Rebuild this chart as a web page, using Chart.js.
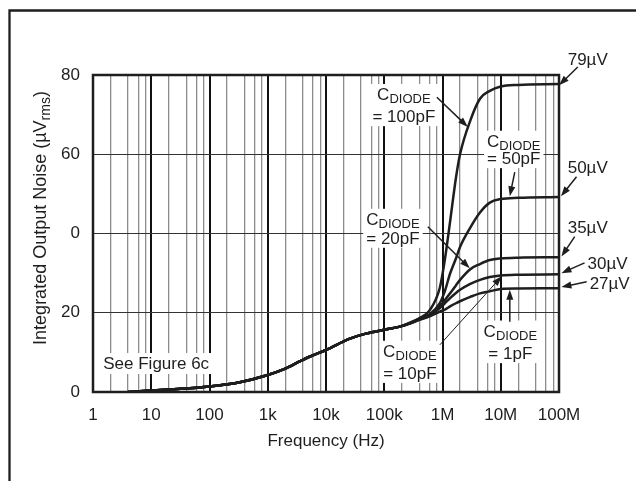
<!DOCTYPE html>
<html>
<head>
<meta charset="utf-8">
<script src="https://cdn.jsdelivr.net/npm/chart.js@4.4.0/dist/chart.umd.min.js"></script>
<style>
body{margin:0;background:#fff}
</style>
</head>
<body>
<canvas id="noiseChart" width="636" height="481"></canvas>
<script>
// shared low frequency part (all curves lie on top of each other)
const commonFreq = [4, 10, 32, 100, 316, 1000, 2000, 3500, 5200, 10000, 25000, 50000, 100000, 185000]
const commonNoise = [0, 0.4, 0.8, 1.4, 2.4, 4.3, 5.9, 7.7, 8.9, 10.6, 13.4, 14.8, 15.7, 16.5]

// where the curves split up
const tailFreq = [275000, 400000, 600000, 900000, 1100000, 1350000, 1700000, 2000000, 3000000, 4400000, 6500000, 10000000, 20000000, 100000000]
const noise1pF = [17.3, 18.2, 19.1, 20.3, 20.8, 21.6, 22.4, 22.9, 24.0, 24.9, 25.4, 26.0, 26.1, 26.2]
const noise10pF = [17.3, 18.3, 19.2, 21.2, 22.4, 23.7, 25.0, 25.8, 27.3, 28.3, 29.0, 29.4, 29.6, 29.7]
const noise20pF = [17.3, 18.4, 19.4, 21.6, 23.2, 24.9, 26.9, 28.3, 31.0, 32.3, 33.3, 33.7, 33.9, 34.0]
const noise50pF = [17.4, 18.5, 19.6, 22.4, 25.5, 29.9, 33.7, 36.6, 41.5, 45.3, 47.8, 48.7, 49.0, 49.2]
const noise100pF = [17.5, 18.6, 20.6, 26.3, 33.5, 43.0, 54.0, 60.0, 68.5, 74.0, 76.0, 77.1, 77.5, 77.7]
const seriesNames = ['1pF', '10pF', '20pF', '50pF', '100pF']

const decades = [1, 10, 100, 1e3, 1e4, 1e5, 1e6, 1e7, 1e8]
const minorSteps = [2, 4, 6, 8]
const xTickLabels = ['1', '10', '100', '1k', '10k', '100k', '1M', '10M', '100M']
const yTickLabels = ['0', '20', '0', '60', '80']
const endLabels = ['79µV', '50µV', '35µV', '30µV', '27µV']

const FONT = '"Liberation Sans", Arial, Helvetica, sans-serif'
const INK = '#1e1e1e'

// label + arrow placement, in data units (Hz, µV)
const diodeNotes = [
	{ text: '= 100pF', fx: 2.17e5, v1: 73.7, v2: 68.1, from: [8.0e5, 74.4], to: [2.72e6, 66.9], thin: false },
	{ text: '= 50pF', fx: 1.67e7, v1: 61.9, v2: 57.5, from: [1.74e7, 55.5], to: [1.43e7, 49.4], thin: false },
	{ text: '= 20pF', fx: 1.41e5, v1: 42.2, v2: 37.4, from: [5.6e5, 41.7], to: [2.94e6, 31.2], thin: false },
	{ text: '= 10pF', fx: 2.75e5, v1: 8.9, v2: 3.3, from: [9.0e5, 11.9], to: [1.04e7, 29.2], thin: true },
	{ text: '= 1pF', fx: 1.46e7, v1: 14.0, v2: 8.3, from: [1.43e7, 17.7], to: [1.43e7, 25.8], thin: false }
]
const endNotes = [
	{ fx: 1.41e8, v: 82.5, from: [2.1e8, 82.0], to: [1.0e8, 77.4] },
	{ fx: 1.41e8, v: 55.3, from: [2.0e8, 54.3], to: [1.08e8, 49.4] },
	{ fx: 1.41e8, v: 40.2, from: [1.86e8, 39.2], to: [1.1e8, 34.2] },
	{ fx: 3.1e8, v: 31.0, from: [2.75e8, 32.6], to: [1.1e8, 30.0] },
	{ fx: 3.36e8, v: 26.0, from: [2.98e8, 27.8], to: [1.1e8, 26.5] }
]

const isDecade = v => Math.abs(Math.log10(v) - Math.round(Math.log10(v))) < 1e-9

const gridTicks = []
decades.forEach(d => {
	gridTicks.push(d)
	if (d < 1e8) minorSteps.forEach(m => gridTicks.push(m * d))
})

const allFreq = commonFreq.concat(tailFreq)
const datasets = [noise1pF, noise10pF, noise20pF, noise50pF, noise100pF].map((tail, i) => {
	const vals = commonNoise.concat(tail)
	return {
		label: 'CDIODE = ' + seriesNames[i],
		data: allFreq.map((f, j) => ({ x: f, y: vals[j] })),
		borderColor: INK,
		borderWidth: 2.5,
		pointRadius: 0,
		cubicInterpolationMode: 'monotone',
		fill: false
	}
})

const arrow = (ctx, x1, y1, x2, y2, w) => {
	const a = Math.atan2(y2 - y1, x2 - x1)
	const len = 10, half = 3.5
	ctx.lineWidth = w
	ctx.beginPath()
	ctx.moveTo(x1, y1)
	ctx.lineTo(x2 - Math.cos(a) * len * 0.8, y2 - Math.sin(a) * len * 0.8)
	ctx.stroke()
	ctx.beginPath()
	ctx.moveTo(x2, y2)
	ctx.lineTo(x2 - Math.cos(a) * len - Math.sin(a) * half, y2 - Math.sin(a) * len + Math.cos(a) * half)
	ctx.lineTo(x2 - Math.cos(a) * len + Math.sin(a) * half, y2 - Math.sin(a) * len - Math.cos(a) * half)
	ctx.closePath()
	ctx.fill()
}

// C with DIODE subscript on line one, value on line two
const noteBox = (ctx, n, xs, ys) => {
	ctx.font = '17px ' + FONT
	const wC = ctx.measureText('C').width
	const w2 = ctx.measureText(n.text).width
	ctx.font = '13px ' + FONT
	const wSub = ctx.measureText('DIODE').width
	const w1 = wC + wSub
	const cx = xs.getPixelForValue(n.fx)
	const b1 = ys.getPixelForValue(n.v1)
	const b2 = ys.getPixelForValue(n.v2)
	const w = Math.max(w1, w2)
	return { cx, b1, b2, w1, w2, wC, left: cx - w / 2 - 3, right: cx + w / 2 + 3, top: b1 - 16, bottom: b2 + 4 }
}

const notesPlugin = {
	id: 'notes',
	beforeDatasetsDraw(chart) {
		const { ctx, chartArea: a } = chart
		const xs = chart.scales.x, ys = chart.scales.y
		ctx.save()
		ctx.fillStyle = '#fff'
		diodeNotes.forEach(n => {
			const b = noteBox(ctx, n, xs, ys)
			ctx.fillRect(b.left, b.top, b.right - b.left, b.bottom - b.top)
		})
		ctx.font = '17px ' + FONT
		const sx = xs.getPixelForValue(1.5), sy = ys.getPixelForValue(5.8)
		const sw = ctx.measureText('See Figure 6c').width
		ctx.fillRect(sx - 3, sy - 16, sw + 6, 21)
		ctx.fillStyle = INK
		ctx.textBaseline = 'alphabetic'
		ctx.fillText('See Figure 6c', sx, sy)
		// plot frame
		ctx.strokeStyle = INK
		ctx.lineWidth = 2.5
		ctx.strokeRect(a.left, a.top, a.right - a.left, a.bottom - a.top)
		ctx.restore()
	},
	afterDatasetsDraw(chart) {
		const { ctx } = chart
		const xs = chart.scales.x, ys = chart.scales.y
		ctx.save()
		ctx.fillStyle = INK
		ctx.strokeStyle = INK
		ctx.textBaseline = 'alphabetic'
		diodeNotes.forEach(n => {
			const b = noteBox(ctx, n, xs, ys)
			const x0 = b.cx - b.w1 / 2
			ctx.font = '17px ' + FONT
			ctx.fillText('C', x0, b.b1)
			ctx.fillText(n.text, b.cx - b.w2 / 2, b.b2)
			ctx.font = '13px ' + FONT
			ctx.fillText('DIODE', x0 + b.wC, b.b1 + 3)
			arrow(ctx, xs.getPixelForValue(n.from[0]), ys.getPixelForValue(n.from[1]),
				xs.getPixelForValue(n.to[0]), ys.getPixelForValue(n.to[1]), n.thin ? 1 : 1.5)
		})
		endNotes.forEach((n, i) => {
			ctx.font = '17px ' + FONT
			ctx.fillText(endLabels[i], xs.getPixelForValue(n.fx), ys.getPixelForValue(n.v))
			arrow(ctx, xs.getPixelForValue(n.from[0]), ys.getPixelForValue(n.from[1]),
				xs.getPixelForValue(n.to[0]), ys.getPixelForValue(n.to[1]), 1.5)
		})
		ctx.restore()
	},
	afterDraw(chart) {
		const { ctx, chartArea: a } = chart
		ctx.save()
		ctx.fillStyle = INK
		ctx.strokeStyle = INK
		// outer figure border
		ctx.lineWidth = 2.3
		ctx.beginPath()
		ctx.moveTo(9.5, 481)
		ctx.lineTo(9.5, 10.5)
		ctx.lineTo(636, 10.5)
		ctx.stroke()
		// x title
		ctx.font = '17px ' + FONT
		ctx.textAlign = 'center'
		ctx.fillText('Frequency (Hz)', (a.left + a.right) / 2, 446)
		// y title with rms subscript
		ctx.textAlign = 'left'
		ctx.translate(46, 218)
		ctx.rotate(-Math.PI / 2)
		ctx.font = '18px ' + FONT
		const main = 'Integrated Output Noise (µV'
		const wMain = ctx.measureText(main).width
		const wEnd = ctx.measureText(')').width
		ctx.font = '14px ' + FONT
		const wSub = ctx.measureText('rms').width
		let x = -(wMain + wSub + wEnd) / 2
		ctx.font = '18px ' + FONT
		ctx.fillText(main, x, 0)
		x += wMain
		ctx.font = '14px ' + FONT
		ctx.fillText('rms', x, 4)
		x += wSub
		ctx.font = '18px ' + FONT
		ctx.fillText(')', x, 0)
		ctx.restore()
	}
}

const ctx = document.getElementById('noiseChart').getContext('2d')
const noiseChart = new Chart(ctx, {
	type: 'line',
	data: { datasets: datasets },
	options: {
		responsive: false,
		animation: false,
		devicePixelRatio: 1,
		layout: { padding: { top: 75, right: 77, bottom: 0, left: 0 } },
		plugins: {
			legend: { display: false },
			tooltip: { enabled: false }
		},
		scales: {
			x: {
				type: 'logarithmic',
				min: 1,
				max: 1e8,
				afterBuildTicks: s => { s.ticks = gridTicks.map(v => ({ value: v })) },
				afterFit: s => { s.height = 89 },
				border: { display: false },
				grid: {
					drawTicks: false,
					color: c => isDecade(c.tick.value) ? '#111' : '#8c8c8c',
					lineWidth: c => isDecade(c.tick.value) ? 2 : 1.3
				},
				ticks: {
					autoSkip: false,
					maxRotation: 0,
					padding: 13,
					color: INK,
					font: { family: FONT, size: 17 },
					callback: v => {
						const k = decades.indexOf(v)
						return k < 0 ? '' : xTickLabels[k]
					}
				}
			},
			y: {
				min: 0,
				max: 80,
				afterFit: s => { s.width = 93 },
				border: { display: false },
				grid: { drawTicks: false, color: '#333', lineWidth: 1 },
				ticks: {
					stepSize: 20,
					padding: 13,
					color: INK,
					font: { family: FONT, size: 17 },
					callback: (v, i) => yTickLabels[i]
				}
			}
		}
	},
	plugins: [notesPlugin]
})
</script>
</body>
</html>
